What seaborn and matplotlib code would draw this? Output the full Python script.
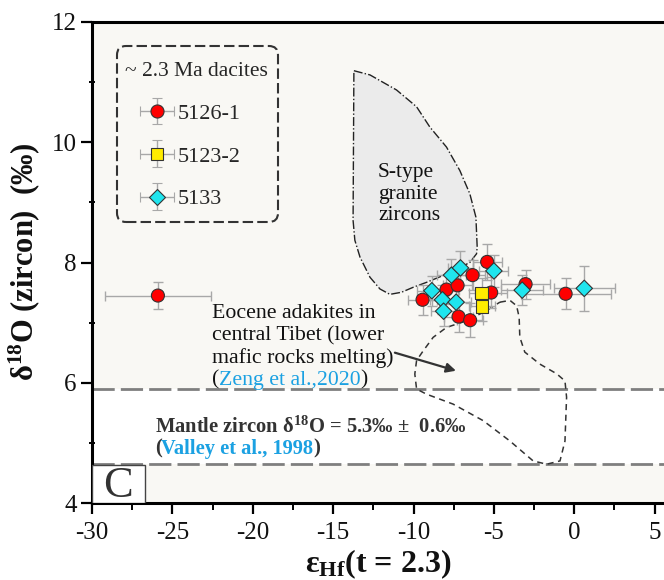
import numpy as np
import pandas as pd
import matplotlib
matplotlib.use("Agg")
import matplotlib.pyplot as plt
import seaborn as sns
from matplotlib.patches import Polygon, Rectangle, FancyBboxPatch
from matplotlib.legend_handler import HandlerErrorbar
from matplotlib.ticker import MultipleLocator
from matplotlib.transforms import IdentityTransform

# ---------------- data ----------------
red_x = [-25.9, -9.44, -7.95, -7.26, -6.33, -5.42, -5.17, -7.20, -6.48, -3.03, -0.54]
red_y = [7.45, 7.38, 7.55, 7.62, 7.79, 8.01, 7.50, 7.10, 7.04, 7.64, 7.48]
red_xerr = [3.3, 0.9, 0.8, 0.9, 0.8, 0.9, 1.0, 0.9, 0.8, 1.5, 2.8]
red_yerr = [0.23, 0.25, 0.24, 0.26, 0.25, 0.30, 0.26, 0.25, 0.28, 0.24, 0.26]

yel_x = [-5.77, -5.73]
yel_y = [7.49, 7.27]
yel_xerr = [0.8, 0.8]
yel_yerr = [0.25, 0.24]

cyan_x = [-8.86, -8.20, -8.13, -7.64, -7.08, -7.35, -5.00, -3.24, 0.62]
cyan_y = [7.53, 7.38, 7.19, 7.79, 7.91, 7.34, 7.86, 7.54, 7.57]
cyan_xerr = [0.9, 0.8, 0.8, 0.9, 0.8, 0.9, 0.9, 1.3, 1.9]
cyan_yerr = [0.25, 0.24, 0.25, 0.26, 0.28, 0.26, 0.27, 0.25, 0.38]

sample_names = ["5126-1", "5123-2", "5133"]

# S-type granite zircon field (outline)
stype_x = [-13.71, -12.71, -11.06, -9.81, -8.99, -7.95, -7.12, -6.50, -6.12, -6.04,
           -6.08, -6.50, -7.74, -9.19, -10.0, -10.75, -11.47, -12.09, -12.71, -13.33,
           -13.65, -13.76]
stype_y = [11.19, 11.12, 10.87, 10.59, 10.255, 9.92, 9.53, 9.145, 8.755, 8.255,
           8.145, 8.00, 7.83, 7.67, 7.59, 7.505, 7.47, 7.56, 7.755, 8.09,
           8.37, 8.70]

# Eocene adakites field (outline)
eoc_x = [-4.63, -4.00, -3.59, -3.43, -3.39, -3.08, -2.14, -1.10, -0.58, -0.48,
         -0.58, -0.89, -1.72, -2.56, -4.00, -5.67, -7.54, -9.19, -9.81, -9.92,
         -9.81, -9.40, -8.78, -7.95, -6.70, -5.46]
eoc_y = [7.34, 7.37, 7.28, 7.09, 6.76, 6.51, 6.31, 6.15, 6.03, 5.76,
         5.03, 4.70, 4.645, 4.70, 5.03, 5.37, 5.645, 5.81, 5.895, 6.145,
         6.37, 6.53, 6.755, 6.92, 7.03, 7.20]

mantle_hi = 5.9
mantle_lo = 4.65

x_ticks = [-30, -25, -20, -15, -10, -5, 0, 5]
y_ticks = [4, 6, 8, 10, 12]

# ---------------- style ----------------
sns.set_theme(style="ticks")
SERIF = ["Liberation Serif", "DejaVu Serif"]
plt.rcParams["font.family"] = SERIF
plt.rcParams["mathtext.fontset"] = "custom"
plt.rcParams["mathtext.rm"] = "Liberation Serif"
plt.rcParams["mathtext.it"] = "Liberation Serif:italic"
plt.rcParams["mathtext.bf"] = "Liberation Serif:bold"
plt.rcParams["axes.unicode_minus"] = False

RED = "#ff0000"
YEL = "#ffec00"
CYN = "#1fe5ee"
BLUE = "#1ba1e2"
DARK = "#333333"
ERRC = "#a8a8a8"

W, H = 664, 580
fig = plt.figure(figsize=(W / 100, H / 100), dpi=100)
ax = fig.add_axes([92 / W, 77 / H, 572 / W, 481 / H])
ax.set_facecolor("#f9f8f4")

ax.set_xlim(-30, 5.58)
ax.set_ylim(4, 12)

# mantle band
ax.axhspan(mantle_lo, mantle_hi, color="white", zorder=0.3, lw=0)
for yv in (mantle_hi, mantle_lo):
    ax.axhline(yv, color="#7f7f7f", lw=2, ls=(0, (8, 2.2)), zorder=1)

# fields
ax.add_patch(Polygon(np.column_stack([stype_x, stype_y]), closed=True,
                     facecolor="#ebebeb", edgecolor="#222222", lw=1.0,
                     ls="-.", zorder=1.2))
ax.add_patch(Polygon(np.column_stack([eoc_x, eoc_y]), closed=True,
                     facecolor="none", edgecolor="#333333", lw=1.1,
                     ls=(0, (4, 3)), zorder=1.3))

# error bars
groups = [
    (red_x, red_y, red_xerr, red_yerr),
    (yel_x, yel_y, yel_xerr, yel_yerr),
    (cyan_x, cyan_y, cyan_xerr, cyan_yerr),
]
for gx, gy, gxe, gye in groups:
    ax.errorbar(gx, gy, xerr=gxe, yerr=gye, fmt="none", ecolor=ERRC,
                elinewidth=1.0, capsize=3.5, capthick=1.0, zorder=2)

# markers via seaborn
df = pd.DataFrame({
    "x": red_x + yel_x + cyan_x,
    "y": red_y + yel_y + cyan_y,
    "sample": [sample_names[0]] * len(red_x) + [sample_names[1]] * len(yel_x)
              + [sample_names[2]] * len(cyan_x),
})
sns.scatterplot(data=df, x="x", y="y", hue="sample", style="sample", size="sample",
                palette={sample_names[0]: RED, sample_names[1]: YEL, sample_names[2]: CYN},
                markers={sample_names[0]: "o", sample_names[1]: "s", sample_names[2]: "D"},
                sizes={sample_names[0]: 88, sample_names[1]: 78, sample_names[2]: 70},
                edgecolor=DARK, linewidth=0.8, legend=False, ax=ax, zorder=3)

# legend proxies
handles = []
for name, col, mk, ms in [(sample_names[0], RED, "o", 9.4),
                          (sample_names[1], YEL, "s", 8.8),
                          (sample_names[2], CYN, "D", 8.4)]:
    h = ax.errorbar([np.nan], [np.nan], xerr=[1], yerr=[1], fmt=mk, ms=ms,
                    mfc=col, mec=DARK, mew=0.8, ecolor=ERRC, elinewidth=1.0,
                    capsize=3.5, label=name)
    handles.append(h)
leg = ax.legend(handles=handles, loc="upper left",
                bbox_to_anchor=((125 - 92) / 572, (503 - 62) / 481),
                borderaxespad=0, title="~ 2.3 Ma dacites",
                prop={"family": SERIF, "size": 16}, title_fontsize=15.5,
                labelspacing=1.0, handlelength=1.45, handletextpad=0.2,
                borderpad=0, frameon=False, alignment="left",
                handler_map={type(handles[0]): HandlerErrorbar(xerr_size=0.75, yerr_size=0.6)})
leg.get_title().set_fontfamily(SERIF)

# indent the legend entries under the title (as in the reference)
_hbox = leg._legend_handle_box
_orig_draw = _hbox.draw


def _indented_draw(renderer, _box=_hbox, _draw=_orig_draw):
    ox, oy = _box.get_offset(_box.get_bbox(renderer), renderer)
    _box.set_offset((ox + 16, oy))
    _draw(renderer)


_hbox.draw = _indented_draw

# dashed rounded frame of the legend (pixel coords)
frame = FancyBboxPatch((117, H - 222), 161, 176,
                       boxstyle="round,pad=0,rounding_size=9",
                       transform=IdentityTransform(), facecolor="none",
                       edgecolor=DARK, lw=1.5, ls=(0, (5, 2)), zorder=5)
fig.add_artist(frame)

# annotations
ax.text(-12.21, 9.42, "S-type", fontsize=15.5, color="#111111", zorder=4)
ax.text(-12.21, 9.06, "granite", fontsize=15.5, color="#111111", zorder=4)
ax.text(-12.21, 8.71, "zircons", fontsize=15.5, color="#111111", zorder=4)

ex = -22.55
FS = 15.7
ax.text(ex, 7.083, "Eocene adakites in", fontsize=FS, color="#111111", zorder=4)
ax.text(ex, 6.70, "central Tibet (lower", fontsize=FS, color="#111111", zorder=4)
ax.text(ex, 6.333, "mafic rocks melting)", fontsize=FS, color="#111111", zorder=4)
t1 = ax.text(ex, 5.967, "(", fontsize=FS, color="#111111", va="baseline", zorder=4)
t2 = ax.annotate("Zeng et al.,2020", xy=(1, 0), xycoords=t1, va="bottom",
                 fontsize=FS, color=BLUE, zorder=4)
ax.annotate(")", xy=(1, 0), xycoords=t2, va="bottom", fontsize=FS,
            color="#111111", zorder=4)

ax.annotate("", xy=(-7.36, 6.20), xytext=(-11.16, 6.50),
            arrowprops=dict(arrowstyle="-|>", color=DARK, lw=1.6,
                            mutation_scale=14, shrinkA=0, shrinkB=0), zorder=4)

mx = -26.1
MS = 14.8
ax.text(mx, 5.167, "Mantle zircon δ$^{\\mathbf{18}}$O = 5.3‰ ±  0.6‰", fontsize=MS,
        fontweight="bold", color=DARK, zorder=4)
m1 = ax.text(mx, 4.817, "(", fontsize=MS, fontweight="bold", color=DARK, zorder=4)
m2 = ax.annotate("Valley et al., 1998", xy=(1, 0), xycoords=m1, va="bottom",
                 fontsize=MS, fontweight="bold", color=BLUE, zorder=4)
ax.annotate(")", xy=(1, 0), xycoords=m2, va="bottom", fontsize=MS,
            fontweight="bold", color=DARK, zorder=4)

# panel label box
ax.add_patch(Rectangle((0, 0), 53 / 572, 38 / 481, transform=ax.transAxes,
                       facecolor="white", edgecolor="#444444", lw=1.0, zorder=4))
ax.text(26 / 572, 17 / 481, "C", transform=ax.transAxes, ha="center", va="center",
        fontsize=32, color=DARK, zorder=5)

# axes styling
ax.set_xticks(x_ticks)
ax.set_yticks(y_ticks)
ax.xaxis.set_minor_locator(MultipleLocator(2.5))
ax.yaxis.set_minor_locator(MultipleLocator(1))
ax.tick_params(axis="both", which="major", direction="out", length=8, width=1.6,
               color="black", labelsize=18, labelcolor="#111111")
ax.tick_params(axis="x", which="major", pad=6)
ax.tick_params(axis="y", which="major", pad=3)
ax.tick_params(axis="x", which="minor", direction="out", length=5, width=1.4, color="black")
ax.tick_params(axis="y", which="minor", direction="inout", length=5, width=1.4, color="black")
ax.set_xticklabels([str(v) for v in x_ticks], fontfamily=SERIF)
ax.set_yticklabels([str(v) for v in y_ticks], fontfamily=SERIF)
for s in ("left", "bottom", "top"):
    ax.spines[s].set_linewidth(2.2)
    ax.spines[s].set_color("black")
ax.spines["right"].set_visible(False)

ax.set_xlabel("ε$_{\\mathbf{Hf}}$(t = 2.3)", fontsize=23, fontweight="bold",
              color="#111111", labelpad=2, fontfamily=SERIF)
ax.set_ylabel("δ$^{\\mathbf{18}}$O (zircon)  (‰)", fontsize=22, fontweight="bold",
              color="#111111", labelpad=7, fontfamily=SERIF)

fig.savefig("out.png", dpi=100, facecolor="white")
